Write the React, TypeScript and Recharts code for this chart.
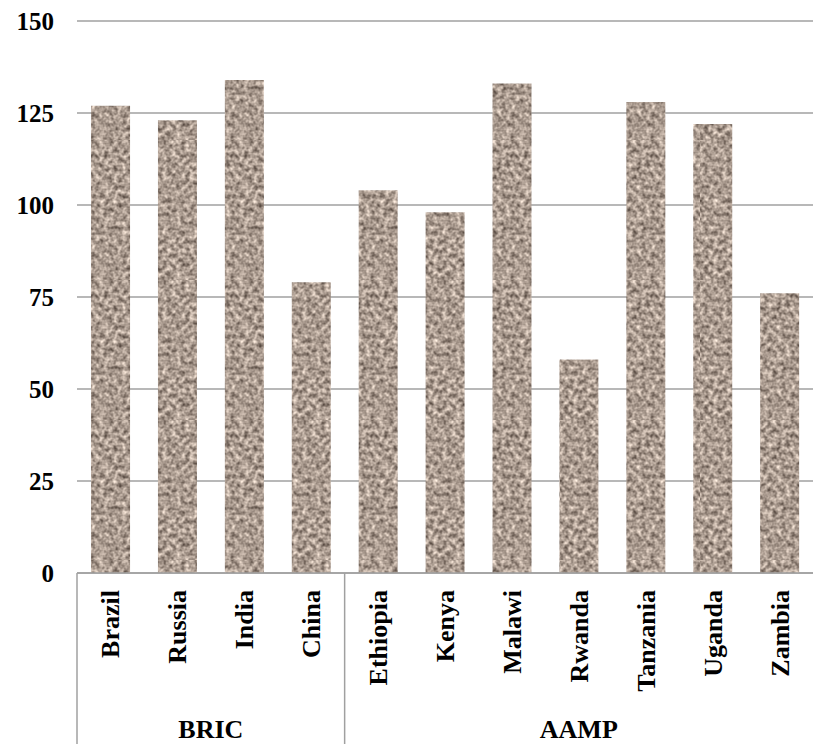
import React from "react";
import { Bar, BarChart, CartesianGrid, XAxis, YAxis } from "recharts";

const countries = ["Brazil", "Russia", "India", "China", "Ethiopia", "Kenya", "Malawi", "Rwanda", "Tanzania", "Uganda", "Zambia"];
const values = [127, 123, 134, 79, 104, 98, 133, 58, 128, 122, 76];
const groupOf = ["BRIC", "BRIC", "BRIC", "BRIC", "AAMP", "AAMP", "AAMP", "AAMP", "AAMP", "AAMP", "AAMP"];
const yTicks = [0, 25, 50, 75, 100, 125, 150];

const W = 813;
const H = 744;
const serif = "'Liberation Serif', 'Times New Roman', serif";
const lineColor = "#a0a0a0";

const data = countries.map((name, i) => ({ name, value: values[i], group: groupOf[i] }));

function CategoryTick(props: any) {
  const { x, y, payload } = props;
  const i = countries.indexOf(payload.value);
  const half = payload.offset || 33;
  const grp = groupOf[i];
  const first = i === 0 || groupOf[i - 1] !== grp;
  const n = groupOf.filter((g) => g === grp).length;
  return (
    <g>
      <text
        transform={`translate(${x + 9},${y + 17}) rotate(-90)`}
        textAnchor="end"
        fontFamily={serif}
        fontWeight="bold"
        fontSize={26}
        fill="#000"
      >
        {payload.value}
      </text>
      {first && <line x1={x - half} x2={x - half} y1={y} y2={H} stroke={lineColor} strokeWidth={1.5} />}
      {first && (
        <text
          x={x - half + n * half}
          y={y + 165}
          textAnchor="middle"
          fontFamily={serif}
          fontWeight="bold"
          fontSize={26}
          fill="#000"
        >
          {grp}
        </text>
      )}
    </g>
  );
}

export default function App() {
  return (
    <div style={{ position: "absolute", left: 0, top: 0, width: W, height: H, background: "#fff" }}>
      <style>{`body{margin:0}`}</style>
      <svg width={0} height={0} style={{ position: "absolute" }}>
        <defs>
          <filter id="granite-noise" x="0" y="0" width="100%" height="100%" colorInterpolationFilters="sRGB">
            <feTurbulence type="fractalNoise" baseFrequency="0.22" numOctaves={2} seed={7} result="n" />
            <feColorMatrix
              in="n"
              type="matrix"
              values="0.9 0 0 0 0.22  0.88 0 0 0 0.17  0.85 0 0 0 0.14  0 0 0 0 1"
            />
          </filter>
          <pattern id="granite" patternUnits="userSpaceOnUse" width={140} height={140}>
            <rect width={140} height={140} filter="url(#granite-noise)" />
          </pattern>
        </defs>
      </svg>
      <BarChart
        width={W}
        height={H}
        data={data}
        margin={{ top: 21, right: 0, bottom: 0, left: 0 }}
        barCategoryGap="21%"
      >
        <CartesianGrid vertical={false} stroke={lineColor} strokeWidth={1.5} />
        <XAxis
          dataKey="name"
          interval={0}
          height={171}
          tickLine={false}
          tickSize={0}
          tickMargin={0}
          axisLine={{ stroke: lineColor, strokeWidth: 1.5 }}
          tick={<CategoryTick />}
        />
        <YAxis
          domain={[0, 150]}
          ticks={yTicks}
          width={77}
          axisLine={false}
          tickLine={false}
          tickSize={0}
          tickMargin={23}
          tick={{ fontFamily: serif, fontWeight: "bold", fontSize: 25, fill: "#000" }}
        />
        <Bar dataKey="value" fill="url(#granite)" isAnimationActive={false} />
      </BarChart>
    </div>
  );
}
